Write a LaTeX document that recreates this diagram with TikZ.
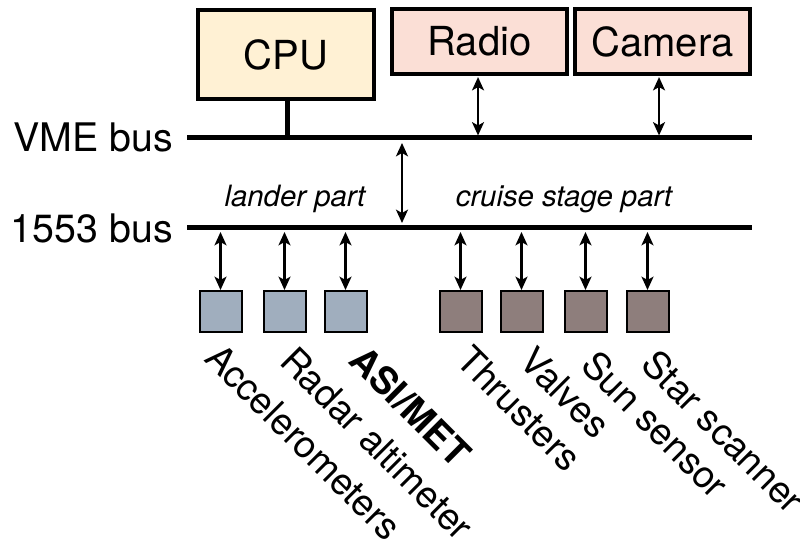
\documentclass[tikz,border=0pt]{standalone}
\usepackage{fontspec}
\setmainfont{TeX Gyre Heros}
\usetikzlibrary{arrows.meta}
\definecolor{cpufill}{HTML}{FFF1D4}
\definecolor{perfill}{HTML}{FBDFD6}
\definecolor{landfill}{HTML}{A0AEBE}
\definecolor{cruisefill}{HTML}{8E7E7C}
\begin{document}
\begin{tikzpicture}[x=0.75pt,y=-0.75pt,
  bigbox/.style={draw, line width=2.6pt, inner sep=0, font=\fontsize{30}{36}\selectfont},
  unit/.style={draw, line width=1.5pt, minimum width=31.5pt, minimum height=30.75pt, inner sep=0},
  bus/.style={line width=3.75pt},
  link/.style={line width=1.6pt, {Stealth[length=10pt,width=9pt,inset=2.5pt]}-{Stealth[length=10pt,width=9pt,inset=2.5pt]}},
  buslabel/.style={anchor=east, inner sep=0, font=\fontsize{29.5}{34}\selectfont},
  partlabel/.style={anchor=base, inner sep=0, font=\itshape\fontsize{22}{26}\selectfont},
  devlabel/.style={rotate=-45, anchor=base west, inner sep=0, font=\fontsize{28}{32}\selectfont}]
\useasboundingbox (0,0) rectangle (800,545);

% processor and peripherals on the VME bus
\node[bigbox, fill=cpufill, minimum width=132pt, minimum height=66.75pt] (cpu) at (286,54.5) {CPU};
\node[bigbox, fill=perfill, minimum width=131.25pt, minimum height=48.75pt] (radio) at (479.5,41.5) {Radio};
\node[bigbox, fill=perfill, minimum width=131.25pt, minimum height=48.75pt] (camera) at (662.5,41.5) {Camera};

% the two buses
\coordinate (vmeL) at (187,138);
\coordinate (vmeR) at (752,138);
\coordinate (milL) at (187,228);
\coordinate (milR) at (752,228);
\draw[bus] (vmeL) -- (vmeR);
\draw[bus] (milL) -- (milR);
\node[buslabel] (vmelab) at (173,137) {VME bus};
\node[buslabel] (millab) at (173,228) {1553 bus};

\coordinate (cpuport) at ([xshift=1.2pt]cpu.south);
\draw[line width=3.5pt] (cpuport) -- (cpuport |- vmeL);
\coordinate (radioport) at ([xshift=-1.1pt]radio.south);
\coordinate (cameraport) at ([xshift=-2.6pt]camera.south);
\draw[link, shorten <=1pt, shorten >=1.9pt] (radioport) -- (radioport |- vmeL);
\draw[link, shorten <=1pt, shorten >=1.9pt] (cameraport) -- (cameraport |- vmeL);

% bridge between the buses
\coordinate (brT) at (402,138);
\coordinate (brB) at (402,228);
\draw[link, shorten <=3.75pt, shorten >=3.75pt] (brT) -- (brB);

\node[partlabel] (lander) at (295,207) {lander part};
\node[partlabel] (cruise) at (564,207) {cruise stage part};

% devices on the 1553 bus
\node[unit, fill=landfill] (acc) at (220.5,311.5) {};
\node[unit, fill=landfill] (rad) at (284.5,311.5) {};
\node[unit, fill=landfill] (asi) at (345.5,311.5) {};
\node[unit, fill=cruisefill] (thr) at (460.5,311.5) {};
\node[unit, fill=cruisefill] (val) at (521.5,311.5) {};
\node[unit, fill=cruisefill] (sun) at (585.5,311.5) {};
\node[unit, fill=cruisefill] (star) at (647.5,311.5) {};

\foreach \u in {acc,rad,asi,thr,val,sun,star}
  \draw[link, shorten <=3pt] (\u.north |- milL) -- (\u.north);

\node[devlabel] (accl) at (203,360) {Accelerometers};
\node[devlabel] (radl) at (278,363) {Radar altimeter};
\node[devlabel, font=\bfseries\fontsize{28}{32}\selectfont] (asil) at (347,362) {ASI/MET};
\node[devlabel] (thrl) at (454,362) {Thrusters};
\node[devlabel] (vall) at (517,363) {Valves};
\node[devlabel] (sunl) at (579,367) {Sun sensor};
\node[devlabel] (starl) at (639,366) {Star scanner};
\end{tikzpicture}
\end{document}
